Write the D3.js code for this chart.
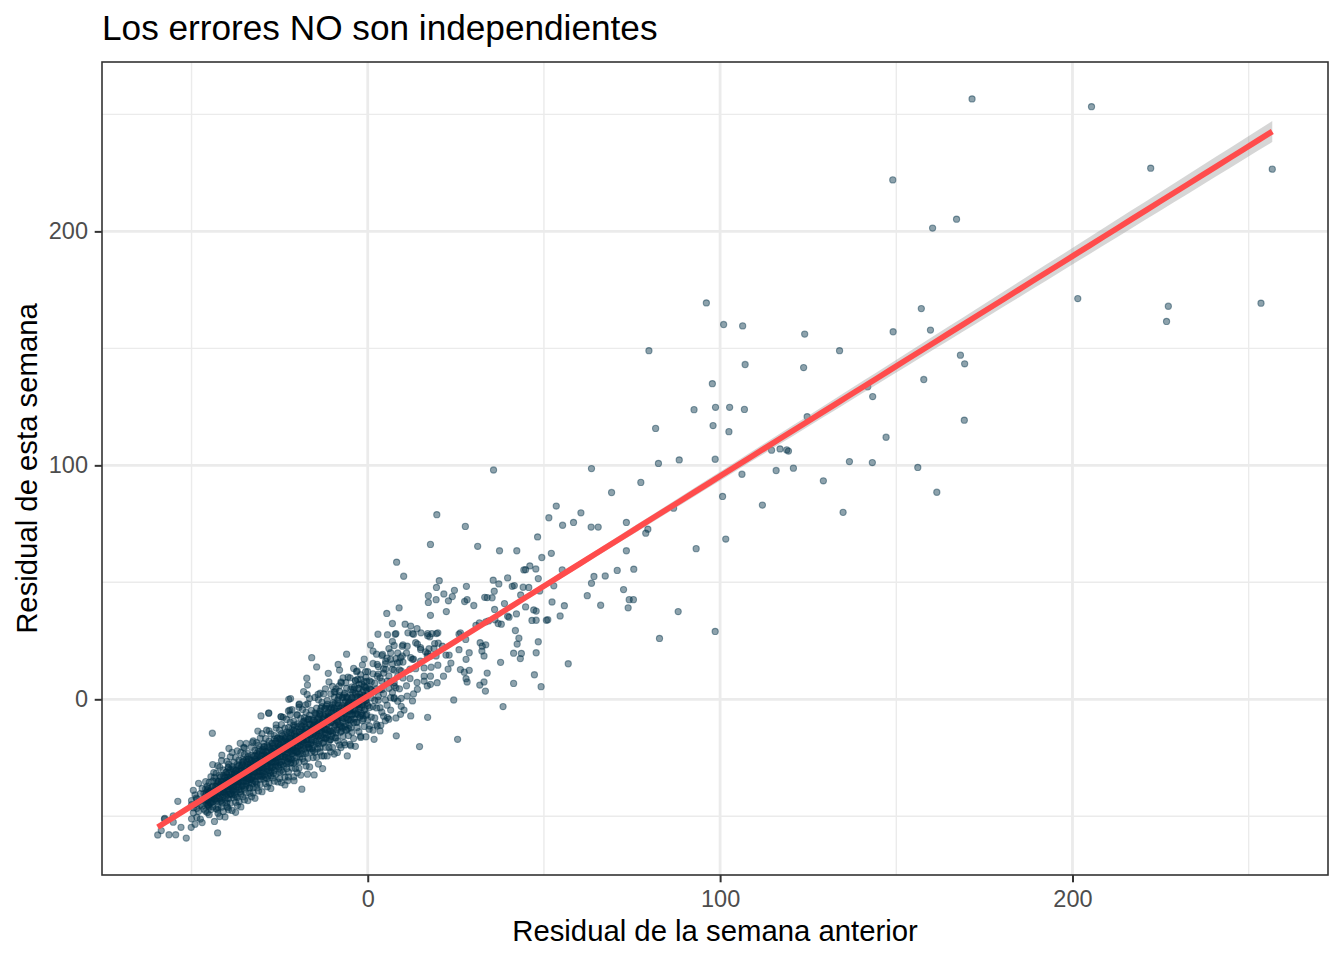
<!DOCTYPE html>
<html lang="es">

<head>
    <meta charset="UTF-8">
    <title>Los errores NO son independientes</title>
    <style>
        body { margin: 0; background: #fff; }
        text { font-family: "Liberation Sans", Arial, Helvetica, sans-serif; }
    </style>
</head>

<body>
    <svg width="1344" height="960"></svg>
    <script src="https://d3js.org/d3.v7.min.js"></script>
    <script>

        // residual of the previous week (x) vs residual of this week (y)
        // sparse points bottom-left
        const lowPts = [
            [-59.6, -58.0], [-57.7, -51.2], [-55.2, -49.8], [-53.9, -43.6], [-56.4, -57.9], [-54.5, -57.9],
            [-53.0, -54.7], [-51.5, -59.3], [-50.1, -54.7], [-42.6, -57.1], [-58.6, -56.1], [-55.2, -52.5],
            [-57.6, -50.9], [-44.1, -14.5], [-42.6, -47.2], [-37.5, -48.3], [-18.7, -38.4], [-39.7, -46.3],
            [-45.2, -45.2], [-48.7, -42.2], [-45.3, -38.1], [-43.7, -31.3], [-42.6, -28.4], [-41.4, -23.9],
            [-39.4, -21.0], [-39.6, -29.1], [-36.2, -18.8], [-35.2, -20.6], [-32.7, -18.5], [-31.2, -13.6],
            [-30.3, -7.1], [-28.1, -6.0], [-28.7, -13.2], [-24.6, -7.4], [-22.5, -5.0], [-20.1, -6.7],
            [-19.4, -2.0], [-17.6, -2.4], [-22.4, 0.0], [-22.7, -34.8], [-20.9, -34.8], [-17.1, -32.0],
            [-15.2, -32.3], [-12.8, -29.6], [-12.4, -24.2], [-8.6, -22.7], [-6.7, -18.5]
        ];

        // dense cloud, read column by column
        const corePts = [
            [-50.0, -45.0], [-50.0, -51.1], [-50.0, -43.3],
            [-49.5, -46.4], [-49.5, -38.9], [-49.5, -48.5],
            [-49.0, -53.4], [-49.0, -40.9], [-49.0, -45.0],
            [-48.5, -46.6], [-48.5, -42.7], [-48.5, -50.5],
            [-48.0, -35.9], [-48.0, -47.9], [-48.0, -43.7],
            [-47.5, -51.2], [-47.5, -40.3], [-47.5, -45.2],
            [-47.0, -38.1], [-47.0, -45.6], [-47.0, -52.7],
            [-46.5, -40.3], [-46.5, -47.0], [-46.5, -43.0],
            [-46.0, -35.2], [-46.0, -47.8], [-46.0, -40.9], [-46.0, -42.8], [-46.0, -38.3],
            [-45.5, -48.4], [-45.5, -38.8], [-45.5, -43.5], [-45.5, -45.1], [-45.5, -37.1],
            [-45.0, -49.3], [-45.0, -40.7], [-45.0, -35.5], [-45.0, -46.0], [-45.0, -39.7],
            [-44.5, -42.0], [-44.5, -33.1], [-44.5, -44.3], [-44.5, -40.8], [-44.5, -47.1],
            [-44.0, -34.9], [-44.0, -43.9], [-44.0, -27.9], [-44.0, -46.0], [-44.0, -37.2],
            [-43.5, -40.7], [-43.5, -52.2], [-43.5, -33.4], [-43.5, -42.7], [-43.5, -39.4],
            [-43.0, -31.6], [-43.0, -46.8], [-43.0, -34.8], [-43.0, -43.2], [-43.0, -37.2],
            [-42.5, -48.7], [-42.5, -37.4], [-42.5, -46.1], [-42.5, -35.1], [-42.5, -40.1],
            [-42.0, -29.0], [-42.0, -42.6], [-42.0, -50.1], [-42.0, -32.4], [-42.0, -38.1],
            [-41.5, -40.6], [-41.5, -35.2], [-41.5, -46.1], [-41.5, -26.2], [-41.5, -43.2],
            [-41.0, -36.8], [-41.0, -48.0], [-41.0, -32.6], [-41.0, -39.6], [-41.0, -30.2],
            [-40.5, -40.3], [-40.5, -50.3], [-40.5, -33.6], [-40.5, -43.0], [-40.5, -37.3],
            [-40.0, -26.5], [-40.0, -44.3], [-40.0, -34.5], [-40.0, -37.3], [-40.0, -31.0], [-40.0, -45.8], [-40.0, -32.2],
            [-39.5, -38.3], [-39.5, -40.7], [-39.5, -29.3], [-39.5, -47.2], [-39.5, -35.1], [-39.5, -27.7], [-39.5, -42.6],
            [-39.0, -33.3], [-39.0, -37.2], [-39.0, -24.6], [-39.0, -40.5], [-39.0, -35.6], [-39.0, -44.4], [-39.0, -30.2],
            [-38.5, -38.7], [-38.5, -22.7], [-38.5, -40.8], [-38.5, -32.0], [-38.5, -36.0], [-38.5, -47.5], [-38.5, -28.7],
            [-38.0, -37.5], [-38.0, -34.2], [-38.0, -26.9], [-38.0, -42.1], [-38.0, -30.1], [-38.0, -38.5], [-38.0, -32.5],
            [-37.5, -44.0], [-37.5, -32.7], [-37.5, -41.4], [-37.5, -30.4], [-37.5, -35.4], [-37.5, -24.8], [-37.5, -38.4],
            [-37.0, -45.4], [-37.0, -27.7], [-37.0, -33.4], [-37.0, -36.4], [-37.0, -31.0], [-37.0, -41.9], [-37.0, -22.0],
            [-36.5, -38.5], [-36.5, -32.5], [-36.5, -43.7], [-36.5, -28.3], [-36.5, -35.3], [-36.5, -25.9], [-36.5, -36.5],
            [-36.0, -46.0], [-36.0, -29.3], [-36.0, -38.7], [-36.0, -33.0], [-36.0, -22.7], [-36.0, -40.5], [-36.0, -30.7],
            [-35.5, -33.1], [-35.5, -26.8], [-35.5, -41.6], [-35.5, -28.0], [-35.5, -34.6], [-35.5, -37.0], [-35.5, -25.6],
            [-35.0, -43.0], [-35.0, -30.9], [-35.0, -23.5], [-35.0, -38.4], [-35.0, -29.5], [-35.0, -33.4], [-35.0, -20.8],
            [-34.5, -36.2], [-34.5, -31.3], [-34.5, -40.1], [-34.5, -25.9], [-34.5, -34.9], [-34.5, -18.9], [-34.5, -37.0],
            [-34.0, -27.8], [-34.0, -31.8], [-34.0, -43.3], [-34.0, -24.5], [-34.0, -33.8], [-34.0, -30.5], [-34.0, -23.2],
            [-33.5, -37.9], [-33.5, -25.9], [-33.5, -34.3], [-33.5, -28.3], [-33.5, -40.2], [-33.5, -28.9], [-33.5, -37.6],
            [-33.0, -26.1], [-33.0, -31.1], [-33.0, -20.5], [-33.0, -34.1], [-33.0, -41.6], [-33.0, -23.9], [-33.0, -29.6],
            [-32.5, -32.2], [-32.5, -26.8], [-32.5, -37.7], [-32.5, -17.8], [-32.5, -34.8], [-32.5, -28.8], [-32.5, -40.0],
            [-32.0, -24.1], [-32.0, -31.1], [-32.0, -21.7], [-32.0, -32.3], [-32.0, -42.3], [-32.0, -25.6], [-32.0, -35.0],
            [-31.5, -28.8], [-31.5, -18.5], [-31.5, -36.3], [-31.5, -26.5], [-31.5, -29.3], [-31.5, -23.0], [-31.5, -37.8],
            [-31.0, -23.7], [-31.0, -30.3], [-31.0, -32.7], [-31.0, -21.3], [-31.0, -39.2], [-31.0, -27.1], [-31.0, -19.7],
            [-30.5, -34.2], [-30.5, -25.3], [-30.5, -29.2], [-30.5, -16.6], [-30.5, -32.5], [-30.5, -27.6], [-30.5, -36.4],
            [-30.0, -21.7], [-30.0, -30.7], [-30.0, -14.7], [-30.0, -32.8], [-30.0, -24.0], [-30.0, -28.0], [-30.0, -39.5],
            [-29.5, -20.2], [-29.5, -29.5], [-29.5, -26.2], [-29.5, -18.9], [-29.5, -34.1], [-29.5, -22.1], [-29.5, -30.5],
            [-29.0, -24.1], [-29.0, -36.0], [-29.0, -24.7], [-29.0, -33.4], [-29.0, -22.4], [-29.0, -27.4], [-29.0, -16.8],
            [-28.5, -29.9], [-28.5, -37.4], [-28.5, -19.7], [-28.5, -25.4], [-28.5, -28.4], [-28.5, -23.0], [-28.5, -33.9],
            [-28.0, -13.5], [-28.0, -30.5], [-28.0, -24.5], [-28.0, -35.7], [-28.0, -20.3], [-28.0, -27.3], [-28.0, -17.9],
            [-27.5, -28.1], [-27.5, -38.1], [-27.5, -21.4], [-27.5, -30.8], [-27.5, -25.1], [-27.5, -14.8], [-27.5, -32.6],
            [-27.0, -22.3], [-27.0, -25.1], [-27.0, -18.8], [-27.0, -33.6], [-27.0, -20.0], [-27.0, -26.6], [-27.0, -29.0],
            [-26.5, -17.1], [-26.5, -35.0], [-26.5, -22.9], [-26.5, -15.5], [-26.5, -30.4], [-26.5, -21.5], [-26.5, -25.4],
            [-26.0, -12.3], [-26.0, -28.2], [-26.0, -23.3], [-26.0, -32.1], [-26.0, -17.9], [-26.0, -26.9], [-26.0, -10.9],
            [-25.5, -28.6], [-25.5, -19.8], [-25.5, -23.8], [-25.5, -35.3], [-25.5, -16.5], [-25.5, -25.8], [-25.5, -22.5],
            [-25.0, -13.2], [-25.0, -31.1], [-25.0, -17.0], [-25.0, -26.9], [-25.0, -19.9], [-25.0, -33.8], [-25.0, -20.6],
            [-24.5, -30.3], [-24.5, -17.3], [-24.5, -23.2], [-24.5, -10.8], [-24.5, -26.8], [-24.5, -35.6], [-24.5, -14.7],
            [-24.0, -21.1], [-24.0, -24.6], [-24.0, -18.2], [-24.0, -31.1], [-24.0, -7.7], [-24.0, -27.7], [-24.0, -20.6],
            [-23.5, -33.3], [-23.5, -15.1], [-23.5, -23.4], [-23.5, -12.3], [-23.5, -24.8], [-23.5, -36.6], [-23.5, -16.9],
            [-23.0, -27.5], [-23.0, -20.8], [-23.0, -8.6], [-23.0, -29.6], [-23.0, -18.1], [-23.0, -21.3], [-23.0, -13.9],
            [-22.5, -31.0], [-22.5, -15.0], [-22.5, -22.7], [-22.5, -25.5], [-22.5, -12.1], [-22.5, -33.2], [-22.5, -18.9],
            [-22.0, -9.8], [-22.0, -27.3], [-22.0, -16.8], [-22.0, -21.4], [-22.0, -6.6], [-22.0, -25.3], [-22.0, -19.5],
            [-21.5, -29.4], [-21.5, -12.7], [-21.5, -23.3], [-21.5, -4.4], [-21.5, -25.7], [-21.5, -15.4], [-21.5, -20.1],
            [-21.0, -33.1], [-21.0, -11.0], [-21.0, -21.9], [-21.0, -18.0], [-21.0, -9.4], [-21.0, -27.3], [-21.0, -13.2],
            [-20.5, -22.7], [-20.5, -15.7], [-20.5, -29.6], [-20.5, -16.4], [-20.5, -26.6], [-20.5, -13.6], [-20.5, -19.5],
            [-20.0, -6.6], [-20.0, -22.6], [-20.0, -31.4], [-20.0, -10.5], [-20.0, -17.3], [-20.0, -20.8],
            [-19.5, -13.9], [-19.5, -26.8], [-19.5, -3.4], [-19.5, -23.4], [-19.5, -16.3], [-19.5, -29.5],
            [-19.0, -10.9], [-19.0, -19.2], [-19.0, -8.1], [-19.0, -20.6], [-19.0, -32.4], [-19.0, -12.7],
            [-18.5, -23.3], [-18.5, -16.6], [-18.5, -4.4], [-18.5, -25.4], [-18.5, -13.9], [-18.5, -17.1],
            [-18.0, -9.2], [-18.0, -26.7], [-18.0, -10.7], [-18.0, -18.4], [-18.0, -21.2], [-18.0, -7.8],
            [-17.5, -28.5], [-17.5, -14.2], [-17.5, -5.6], [-17.5, -23.1], [-17.5, -12.6], [-17.5, -17.2],
            [-17.0, -1.9], [-17.0, -20.6], [-17.0, -14.8], [-17.0, -25.2], [-17.0, -8.5], [-17.0, -19.1],
            [-16.5, 0.3], [-16.5, -21.0], [-16.5, -10.7], [-16.5, -15.4], [-16.5, -28.9], [-16.5, -6.8],
            [-16.0, -17.2], [-16.0, -13.3], [-16.0, -4.7], [-16.0, -22.6], [-16.0, -8.5], [-16.0, -18.4],
            [-15.5, -11.0], [-15.5, -24.9], [-15.5, -11.7], [-15.5, -21.9], [-15.5, -8.9], [-15.5, -14.8],
            [-15.0, -5.8], [-15.0, -12.6], [-15.0, -16.1], [-15.0, -9.7], [-15.0, -22.6], [-15.0, 0.8],
            [-14.5, -18.7], [-14.5, -11.6], [-14.5, -24.8], [-14.5, -6.6], [-14.5, -14.9], [-14.5, -3.8],
            [-14.0, -15.9], [-14.0, -27.7], [-14.0, -8.0], [-14.0, -19.1], [-14.0, -12.4], [-14.0, -0.2],
            [-13.5, -20.7], [-13.5, -9.2], [-13.5, -12.4], [-13.5, -5.0], [-13.5, -22.5], [-13.5, -6.5],
            [-13.0, -13.7], [-13.0, -16.5], [-13.0, -3.1], [-13.0, -24.2], [-13.0, -9.9], [-13.0, -1.3],
            [-12.5, -18.4], [-12.5, -7.9], [-12.5, -12.5], [-12.5, 2.3], [-12.5, -16.4], [-12.5, -10.6],
            [-12.0, -20.5], [-12.0, -3.8], [-12.0, -14.4], [-12.0, 4.5], [-12.0, -16.8], [-12.0, -6.5],
            [-11.5, -10.7], [-11.5, -24.2], [-11.5, -2.1], [-11.5, -13.0], [-11.5, -9.1], [-11.5, -0.5],
            [-11.0, -17.9], [-11.0, -3.8], [-11.0, -13.7], [-11.0, -6.7], [-11.0, -20.6], [-11.0, -7.4],
            [-10.5, -17.2], [-10.5, -4.2], [-10.5, -10.1], [-10.5, 2.3], [-10.5, -13.7], [-10.5, -22.5],
            [-10.0, 5.5], [-10.0, -14.5], [-10.0, -7.4], [-10.0, -20.6], [-10.0, -2.4],
            [-9.5, -10.2], [-9.5, 0.9], [-9.5, -11.6], [-9.5, -23.4], [-9.5, -3.7],
            [-9.0, -14.4], [-9.0, -7.7], [-9.0, 4.5], [-9.0, -16.5], [-9.0, -5.0],
            [-8.5, -7.7], [-8.5, -0.3], [-8.5, -17.8], [-8.5, -1.8], [-8.5, -9.5],
            [-8.0, -11.8], [-8.0, 1.6], [-8.0, -19.5], [-8.0, -5.2], [-8.0, 3.4],
            [-7.5, -13.7], [-7.5, -3.2], [-7.5, -7.8], [-7.5, 7.0], [-7.5, -11.7],
            [-7.0, -5.4], [-7.0, -15.8], [-7.0, 0.9], [-7.0, -9.7], [-7.0, 9.2],
            [-6.5, -11.6], [-6.5, -1.3], [-6.5, -6.0], [-6.5, -19.5], [-6.5, 2.6],
            [-6.0, -7.8], [-6.0, -3.9], [-6.0, 4.7], [-6.0, -13.2], [-6.0, 0.9],
            [-5.5, -8.6], [-5.5, -1.6], [-5.5, -15.5], [-5.5, -2.3], [-5.5, -12.5],
            [-5.0, 1.8], [-5.0, -5.0], [-5.0, 9.2], [-5.0, -9.2], [-5.0, -19.3],
            [-4.5, 5.3], [-4.5, -2.6], [-4.5, -6.6], [-4.5, 0.8], [-4.5, -14.1],
            [-4.0, 13.2], [-4.0, -9.8], [-4.0, -1.6], [-4.0, -16.8], [-4.0, 4.2],
            [-3.5, -4.9], [-3.5, 7.9], [-3.5, -6.5], [-3.5, -20.1], [-3.5, 2.6],
            [-3.0, -9.7], [-3.0, -2.0], [-3.0, 12.1], [-3.0, -12.1], [-3.0, 1.1],
            [-2.5, -2.1], [-2.5, 6.4], [-2.5, -13.8], [-2.5, 4.6], [-2.5, -4.2],
            [-2.0, -6.9], [-2.0, 8.5], [-2.0, -15.8], [-2.0, 0.7], [-2.0, 10.5],
            [-1.5, -9.1], [-1.5, 3.0], [-1.5, -2.3], [-1.5, 14.7], [-1.5, -6.8],
            [-1.0, 0.4], [-1.0, -11.6], [-1.0, 7.6], [-1.0, -4.6], [-1.0, 17.2],
            [-0.5, -6.9], [-0.5, 4.9], [-0.5, -0.5], [-0.5, -16.0], [-0.5, 9.4],
            [0.0, -2.6], [0.0, 1.9], [0.0, 11.8], [0.0, -8.8],
            [0.5, 7.9], [0.5, -3.5], [0.5, 4.6], [0.5, -11.4],
            [1.0, 4.1], [1.0, -7.6], [1.0, 7.4], [1.0, 0.6],
            [1.5, 15.3], [1.5, -3.1], [1.5, -13.2], [1.5, 10.9],
            [2.0, 3.5], [2.0, -0.5], [2.0, 6.9], [2.0, -8.0],
            [2.5, 19.3], [2.5, -3.7], [2.5, 4.5], [2.5, -10.7],
            [3.0, 10.8], [3.0, 1.2], [3.0, 14.0], [3.0, -0.4],
            [3.5, -13.5], [3.5, 9.2], [3.5, -3.6], [3.5, 4.1],
            [4.0, 18.7], [4.0, -5.5], [4.0, 7.7], [4.0, 4.1],
            [4.5, 13.0], [4.5, -7.2], [4.5, 11.2], [4.5, 2.4],
            [5.0, -0.3], [5.0, 15.1], [5.0, -9.2],
            [5.5, 7.8], [5.5, 17.6], [5.5, -2.5],
            [6.0, 10.0], [6.0, 4.7], [6.0, 21.7],
            [6.5, 0.7], [6.5, 7.4], [6.5, -4.6],
            [7.0, 15.1], [7.0, 2.9], [7.0, 24.7],
            [7.5, 0.7], [7.5, 12.5], [7.5, 7.1],
            [8.0, -8.0], [8.0, 17.4], [8.0, 4.9],
            [8.5, 9.9], [8.5, 19.8], [8.5, -0.8],
            [9.0, 15.9], [9.0, 4.5], [9.0, 12.6],
            [9.5, -3.0], [9.5, 12.1], [9.5, 0.4],
            [10.0, 15.9], [10.0, 9.1], [10.0, 23.3],
            [11.0, 5.8], [11.0, 19.8], [12.0, 12.9], [12.0, 8.9],
            [13.0, 17.2], [13.0, 2.3], [14.0, 30.2], [14.0, 7.2],
            [15.0, 16.3], [15.0, 22.1], [16.0, 13.4], [17.0, 27.2],
            [18.0, 13.7], [19.0, 23.8]
        ];

        // the darkest middle of the cloud, between the columns above
        const coreFillPts = [
            [-45.75, -41.6], [-45.75, -44.4], [-45.75, -39.8],
            [-45.25, -43.1], [-45.25, -40.0], [-45.25, -45.4],
            [-44.75, -39.3], [-44.75, -41.9], [-44.75, -44.3],
            [-44.25, -42.7], [-44.25, -37.6], [-44.25, -40.4],
            [-43.75, -39.0], [-43.75, -43.6], [-43.75, -41.4],
            [-43.25, -42.5], [-43.25, -37.2], [-43.25, -39.9],
            [-42.75, -36.0], [-42.75, -41.0], [-42.75, -43.6],
            [-42.25, -38.1], [-42.25, -42.0], [-42.25, -35.1], [-42.25, -39.6],
            [-41.75, -43.6], [-41.75, -36.2], [-41.75, -40.1], [-41.75, -33.2],
            [-41.25, -41.7], [-41.25, -37.9], [-41.25, -35.1], [-41.25, -44.3],
            [-40.75, -36.1], [-40.75, -39.8], [-40.75, -33.1], [-40.75, -38.5],
            [-40.25, -41.3], [-40.25, -35.3], [-40.25, -38.3], [-40.25, -31.2],
            [-39.75, -39.4], [-39.75, -36.1], [-39.75, -33.3], [-39.75, -42.2],
            [-39.25, -34.2], [-39.25, -36.5], [-39.25, -39.5], [-39.25, -31.3],
            [-38.75, -37.2], [-38.75, -33.2], [-38.75, -40.3], [-38.75, -35.4],
            [-38.25, -29.8], [-38.25, -37.3], [-38.25, -34.0], [-38.25, -39.1],
            [-37.75, -31.6], [-37.75, -35.2], [-37.75, -40.7], [-37.75, -33.2],
            [-37.25, -30.4], [-37.25, -34.9], [-37.25, -39.4], [-37.25, -32.0],
            [-36.75, -35.4], [-36.75, -28.5], [-36.75, -37.4], [-36.75, -33.6],
            [-36.25, -30.4], [-36.25, -39.6], [-36.25, -31.9], [-36.25, -35.6],
            [-35.75, -28.4], [-35.75, -33.8], [-35.75, -37.1], [-35.75, -31.1],
            [-35.25, -33.6], [-35.25, -26.5], [-35.25, -35.1], [-35.25, -31.8],
            [-34.75, -28.6], [-34.75, -37.5], [-34.75, -30.0], [-34.75, -32.3],
            [-34.25, -34.8], [-34.25, -26.6], [-34.25, -33.0], [-34.25, -29.0],
            [-33.75, -35.6], [-33.75, -30.7], [-33.75, -25.5], [-33.75, -33.0],
            [-33.25, -29.3], [-33.25, -34.4], [-33.25, -27.4], [-33.25, -31.0],
            [-32.75, -36.0], [-32.75, -28.5], [-32.75, -29.2], [-32.75, -33.1],
            [-32.25, -27.3], [-32.25, -31.2], [-32.25, -24.3], [-32.25, -33.2],
            [-31.75, -28.9], [-31.75, -26.1], [-31.75, -35.3], [-31.75, -27.6],
            [-31.25, -30.9], [-31.25, -24.2], [-31.25, -29.6], [-31.25, -32.9],
            [-30.75, -26.4], [-30.75, -29.4], [-30.75, -22.3], [-30.75, -30.9],
            [-30.25, -27.1], [-30.25, -24.3], [-30.25, -33.2], [-30.25, -25.7],
            [-29.75, -27.6], [-29.75, -31.2], [-29.75, -21.5], [-29.75, -29.0],
            [-29.25, -23.8], [-29.25, -32.2], [-29.25, -26.4], [-29.25, -20.3],
            [-28.75, -28.6], [-28.75, -24.8], [-28.75, -30.8], [-28.75, -22.5],
            [-28.25, -26.4], [-28.25, -32.8], [-28.25, -24.0], [-28.25, -24.8],
            [-27.75, -28.9], [-27.75, -20.8], [-27.75, -26.1], [-27.75, -31.4],
            [-27.25, -22.2], [-27.25, -26.8], [-27.25, -18.7], [-27.25, -29.1],
            [-26.75, -24.2], [-26.75, -20.9], [-26.75, -31.7], [-26.75, -22.6],
            [-26.25, -26.6], [-26.25, -18.7], [-26.25, -25.0], [-26.25, -28.9],
            [-25.75, -21.4], [-25.75, -24.9], [-25.75, -16.6], [-25.75, -26.6],
            [-25.25, -22.3], [-25.25, -19.0], [-25.25, -29.5], [-25.25, -20.6],
            [-24.75, -16.8], [-24.75, -24.3], [-24.75, -19.6], [-24.75, -28.0],
            [-24.25, -21.7], [-24.25, -15.6], [-24.25, -24.4], [-24.25, -20.6],
            [-23.75, -26.1], [-23.75, -17.8], [-23.75, -22.1], [-23.75, -28.5],
            [-23.25, -19.3], [-23.25, -20.1], [-23.25, -24.7], [-23.25, -16.6],
            [-22.75, -21.4], [-22.75, -26.7], [-22.75, -18.0], [-22.75, -22.6],
            [-22.25, -14.0], [-22.25, -24.4], [-22.25, -20.0], [-22.25, -16.7],
            [-21.75, -27.0], [-21.75, -17.9], [-21.75, -22.3], [-21.75, -14.4],
            [-21.25, -20.3], [-21.25, -24.2], [-21.25, -17.2], [-21.25, -20.7],
            [-20.75, -11.9], [-20.75, -21.9], [-20.75, -18.1], [-20.75, -14.8],
            [-20.25, -24.8], [-20.25, -15.9], [-20.25, -18.6], [-20.25, -22.2],
            [-19.75, -19.8], [-19.75, -11.7], [-19.75, -22.1], [-19.75, -17.7],
            [-19.25, -13.9], [-19.25, -24.7], [-19.25, -15.6], [-19.25, -20.0],
            [-18.75, -11.6], [-18.75, -17.9], [-18.75, -21.8], [-18.75, -14.8],
            [-18.25, -17.9], [-18.25, -9.6], [-18.25, -19.6], [-18.25, -15.8],
            [-17.75, -12.0], [-17.75, -22.5], [-17.75, -13.6], [-17.75, -16.3],
            [-17.25, -19.4], [-17.25, -9.7], [-17.25, -17.2], [-17.25, -12.5],
            [-16.75, -20.4], [-16.75, -14.6], [-16.75, -8.5], [-16.75, -17.3],
            [-16.25, -13.1], [-16.25, -19.1], [-16.25, -10.8], [-16.25, -15.1],
            [-15.75, -21.0], [-15.75, -12.2], [-15.75, -13.0], [-15.75, -17.6],
            [-15.25, -9.0], [-15.25, -14.3], [-15.25, -19.6], [-15.25, -10.9],
            [-14.75, -15.4], [-14.75, -6.1], [-14.75, -18.0], [-14.75, -13.0],
            [-14.25, -8.7], [-14.25, -21.1], [-14.25, -10.6], [-14.25, -15.7],
            [-13.75, -6.1], [-13.75, -13.3], [-13.75, -17.8], [-13.75, -9.8],
            [-13.25, -13.4], [-13.25, -3.8], [-13.25, -15.4], [-13.25, -11.0],
            [-12.75, -6.7], [-12.75, -18.8], [-12.75, -8.5], [-12.75, -11.6],
            [-12.25, -15.3], [-12.25, -4.1], [-12.25, -12.7], [-12.25, -7.3],
            [-11.75, -16.5], [-11.75, -9.8], [-11.75, -2.8], [-11.75, -12.9],
            [-11.25, -8.2], [-11.25, -15.1], [-11.25, -5.5], [-11.25, -10.5],
            [-10.75, -17.3], [-10.75, -7.2], [-10.75, -8.1], [-10.75, -13.4],
            [-10.25, -3.6], [-10.25, -9.7], [-10.25, -15.8], [-10.25, -5.8],
            [-9.75, -1.4], [-9.75, -13.3], [-9.75, -8.3], [-9.75, -4.5],
            [-9.25, -16.4], [-9.25, -5.9], [-9.25, -11.0], [-9.25, -1.9],
            [-8.75, -8.6], [-8.75, -13.1], [-8.75, -5.1], [-8.75, -9.1],
            [-8.25, 0.9], [-8.25, -10.7], [-8.25, -6.3], [-8.25, -2.5],
            [-7.75, -14.1], [-7.75, -3.8], [-7.75, -6.9], [-7.75, -11.1],
            [-7.25, 0.6], [-7.25, -8.0], [-7.25, -2.6], [-7.25, -12.3],
            [-6.75, -5.1], [-6.75, 1.9], [-6.75, -8.2], [-6.75, -3.9],
            [-6.25, -10.4], [-6.25, -0.8], [-6.25, -5.8], [-6.25, -13.1],
            [-5.75, -2.5], [-5.75, -3.4], [-5.75, -8.7], [-5.75, 0.6],
            [-5.25, -5.0], [-5.25, -11.1], [-5.25, -1.1], [-5.25, -6.4],
            [-4.75, -8.6], [-4.75, -3.6], [-4.75, 0.2], [-4.75, -12.2],
            [-4.25, -1.2], [-4.25, -6.3], [-4.25, 2.8], [-4.25, -4.4],
            [-3.75, -8.4], [-3.75, -0.4], [-3.75, -4.4], [-3.75, 5.2],
            [-3.25, -6.0], [-3.25, -1.6], [-3.25, 2.2], [-3.25, -9.9],
            [-2.75, 0.9], [-2.75, -2.2], [-2.75, -6.4], [-2.75, 4.8],
            [-2.25, -3.3], [-2.25, 2.1], [-2.25, -7.6], [-2.25, -0.9],
            [-1.75, 6.6], [-1.75, -3.5], [-1.75, 0.8], [-1.75, -6.1],
            [-1.25, 3.9], [-1.25, -1.1], [-1.25, -8.4], [-1.25, 1.7],
            [-0.75, 1.3], [-0.75, -4.0], [-0.75, 5.3], [-0.75, -0.8],
            [-0.25, -6.4], [-0.25, 3.6], [-0.25, -1.7], [-0.25, 7.6]
        ];

        // points on the edges of the cloud, around x = 0
        const edgePts = [
            [-15.9, 17.8], [-14.5, 13.8], [-11.2, 11.1], [-11.0, 7.4], [-8.4, 14.9], [-8.0, 12.5], [-6.0, 19.3],
            [-17.3, 9.0], [-17.1, 6.1], [-18.2, 3.3], [-17.2, 2.1], [-14.1, 2.1], [-13.5, 2.6], [-9.3, 3.3],
            [-21.9, 0.3], [-28.1, -5.8], [-24.6, -7.5], [-22.1, -4.6], [-19.5, -2.3], [-7.6, 7.4], [-5.6, 9.5],
            [-3.2, 11.8], [-3.5, 8.1], [-0.6, 11.8], [0.8, 23.2], [1.5, 20.6], [2.9, 27.8], [5.6, 27.6],
            [7.0, 32.4], [7.8, 27.8], [10.6, 32.1], [12.2, 31.3], [13.0, 27.8], [14.1, 23.6], [15.1, 28.4],
            [17.0, 28.1], [16.4, 20.3], [9.8, 22.7], [6.5, 19.9], [4.2, 19.2], [7.5, 23.0], [2.7, 14.9],
            [5.1, 16.3], [7.0, 12.8], [9.3, 17.8], [12.7, 17.1], [13.6, 13.1], [16.0, 9.9], [16.0, 7.8],
            [17.8, 6.4], [8.1, -15.6], [14.7, -20.2], [12.2, -7.1], [10.3, -4.6], [12.7, -0.7], [7.5, 0.3],
            [5.6, -7.8], [3.7, -11.1], [6.0, -8.5], [9.3, -6.4], [1.8, -17.1], [-2.0, -16.3], [0.4, -12.8],
            [2.7, -11.4], [-4.8, -19.9], [-7.6, -20.6], [-5.8, -24.2], [-9.5, 3.1], [-8.1, 5.7], [-6.2, 7.1],
            [-4.8, 4.3], [-2.9, 8.5], [-1.0, 5.7], [0.8, 4.3], [2.7, 9.9], [5.1, 12.8], [6.5, 17.1],
            [8.4, 15.6], [9.8, 18.5], [12.2, 17.8], [13.6, 24.2], [11.2, 22.7], [15.0, 21.3], [16.9, 18.5],
            [17.8, 9.9], [16.9, 5.7], [19.7, 7.1], [14.1, 4.3], [11.2, 1.4], [7.5, 5.7], [25.5, -17.1], [17.0, -7.7]
        ];

        // middle of the plot, 15 < x < 95
        const midPts = [
            [19.6, 78.9], [27.7, 73.9], [17.8, 66.2], [8.2, 58.6], [10.2, 52.6], [31.2, 65.4], [37.4, 63.5],
            [42.3, 63.5], [48.2, 69.4], [49.4, 60.6], [52.1, 62.4], [44.3, 55.3], [44.8, 55.4], [46.0, 57.0],
            [47.7, 55.7], [55.2, 55.3], [48.4, 51.6], [39.7, 51.9], [35.6, 50.9], [37.2, 49.3], [35.9, 46.2],
            [41.0, 48.3], [41.6, 48.6], [44.1, 47.9], [45.7, 47.8], [43.4, 44.6], [48.8, 46.3], [52.8, 48.5],
            [20.3, 50.7], [19.5, 47.8], [21.6, 45.0], [24.0, 43.9], [24.6, 46.6], [22.9, 42.1], [28.0, 48.3],
            [17.2, 44.3], [19.4, 42.6], [17.2, 41.4], [27.5, 41.8], [28.2, 42.6], [30.1, 40.1], [33.2, 43.6],
            [33.9, 43.5], [35.3, 43.4], [38.8, 40.9], [36.0, 38.4], [40.1, 35.1], [39.7, 35.5], [42.2, 36.5],
            [44.8, 39.5], [47.1, 38.2], [47.8, 37.7], [46.6, 33.7], [47.8, 33.8], [50.7, 33.8], [51.1, 34.0],
            [52.3, 41.6], [54.6, 35.6], [55.8, 40.0], [62.3, 44.3], [66.1, 40.2], [63.5, 49.6], [64.2, 52.5],
            [67.4, 52.7], [70.8, 55.1], [72.6, 46.9], [73.4, 63.5], [75.5, 55.6], [74.2, 42.6], [75.4, 42.6],
            [73.9, 39.1], [82.8, 26.0], [56.9, 15.2], [48.4, 24.6], [47.8, 19.9], [43.3, 17.4], [43.6, 19.6],
            [41.4, 19.7], [47.3, 10.5], [49.2, 5.4], [41.4, 6.8], [37.7, 15.8], [33.9, 11.2], [31.8, 6.1],
            [33.4, 3.5], [38.4, -3.1], [24.4, -0.3], [31.9, 24.2], [33.5, 23.3], [33.0, 18.5], [32.4, 20.6],
            [32.5, 22.7], [30.7, 31.6], [31.7, 32.7], [33.5, 33.1], [34.3, 33.5], [37.0, 32.4], [37.9, 32.1],
            [36.1, 34.0], [42.9, 26.1], [42.4, 23.6], [41.9, 29.4], [27.8, 25.6], [28.8, 19.9], [27.9, 17.1],
            [25.9, 21.2], [25.9, 27.8], [26.3, 28.4], [26.3, 12.7], [27.4, 11.6], [27.9, 8.8], [28.8, 12.4],
            [28.2, 7.4], [33.0, 7.4], [21.5, 9.9], [22.8, 12.9], [23.6, 15.5], [23.1, 18.9], [22.2, 18.9],
            [19.9, 14.6], [21.2, 22.7], [20.0, 24.0], [18.8, 21.7], [17.4, 21.6], [17.0, 19.6], [17.8, 18.5],
            [19.4, 18.5], [17.6, 26.7], [19.9, 28.4], [19.5, 28.1], [18.2, 28.1], [12.7, 28.1], [11.4, 28.4],
            [8.0, 28.1], [8.9, 39.1], [5.4, 36.7], [17.8, 35.9], [22.3, 37.5], [53.5, 82.6], [51.4, 77.6],
            [35.7, 98.0], [60.5, 79.7], [55.3, 74.4], [58.4, 75.6], [63.4, 73.6], [65.4, 73.6], [73.4, 75.6],
            [79.5, 72.7], [78.9, 71.0], [69.2, 88.4], [77.5, 92.7], [63.5, 98.6], [81.7, 115.8], [79.8, 149.0],
            [82.5, 100.8], [88.4, 102.3], [86.8, 81.7], [88.1, 37.5], [93.2, 64.4]
        ];

        // the long right tail
        const highPts = [
            [96.1, 169.4], [101.0, 160.2], [106.4, 159.6], [124.0, 156.1], [149.1, 157.1], [133.9, 149.0],
            [107.1, 143.1], [123.7, 141.8], [168.2, 147.1], [169.4, 143.4], [157.8, 136.7], [97.8, 134.9],
            [92.6, 123.8], [98.7, 124.8], [102.7, 124.8], [106.9, 123.9], [141.9, 133.6], [143.3, 129.4],
            [124.7, 120.8], [169.3, 119.3], [98.0, 117.0], [102.5, 114.4], [147.1, 112.0], [114.6, 106.5],
            [117.0, 107.0], [118.9, 106.6], [119.4, 106.1], [98.6, 102.6], [106.2, 96.2], [115.9, 97.8],
            [120.8, 98.8], [136.7, 101.6], [143.2, 101.2], [156.1, 99.1], [129.3, 93.4], [161.5, 88.5],
            [100.7, 86.7], [112.0, 83.0], [134.9, 79.9], [101.6, 68.5], [98.6, 29.0],
            [171.5, 256.6], [205.4, 253.3], [149.0, 222.0], [160.3, 201.4], [167.1, 205.2], [222.2, 227.0],
            [256.7, 226.6], [201.5, 171.3], [227.2, 168.0], [226.7, 161.5], [253.5, 169.3], [157.1, 167.0],
            [159.7, 157.8]
        ];

        const xBreaks = [0, 100, 200];
        const yBreaks = [0, 100, 200];
        const xMinor = [-50, 50, 150, 250];
        const yMinor = [-50, 50, 150, 250];

        const titleText = "Los errores NO son independientes";
        const xTitle = "Residual de la semana anterior";
        const yTitle = "Residual de esta semana";

        const data = lowPts.concat(corePts, coreFillPts, edgePts, midPts, highPts);

        let svg = d3.select("svg"),
            panel = { left: 102, top: 62, right: 1328, bottom: 875 };

        svg.append("rect").attr("width", 1344).attr("height", 960).attr("fill", "#fff");

        // ggplot style 5% expansion
        function expand(ext) {
            let pad = (ext[1] - ext[0]) * 0.05;
            return [ext[0] - pad, ext[1] + pad];
        }
        let xExt = d3.extent(data, d => d[0]),
            yExt = d3.extent(data, d => d[1]);

        let x = d3.scaleLinear().domain(expand(xExt)).range([panel.left, panel.right]);
        let y = d3.scaleLinear().domain(expand(yExt)).range([panel.bottom, panel.top]);

        // grid
        let grid = svg.append("g");
        grid.selectAll(".xminor").data(xMinor).enter().append("line")
            .attr("x1", d => x(d)).attr("x2", d => x(d))
            .attr("y1", panel.top).attr("y2", panel.bottom)
            .attr("stroke", "#ebebeb").attr("stroke-width", 1.4);
        grid.selectAll(".yminor").data(yMinor).enter().append("line")
            .attr("y1", d => y(d)).attr("y2", d => y(d))
            .attr("x1", panel.left).attr("x2", panel.right)
            .attr("stroke", "#ebebeb").attr("stroke-width", 1.4);
        grid.selectAll(".xmajor").data(xBreaks).enter().append("line")
            .attr("x1", d => x(d)).attr("x2", d => x(d))
            .attr("y1", panel.top).attr("y2", panel.bottom)
            .attr("stroke", "#ebebeb").attr("stroke-width", 2.8);
        grid.selectAll(".ymajor").data(yBreaks).enter().append("line")
            .attr("y1", d => y(d)).attr("y2", d => y(d))
            .attr("x1", panel.left).attr("x2", panel.right)
            .attr("stroke", "#ebebeb").attr("stroke-width", 2.8);

        // points
        svg.append("g").selectAll("circle").data(data).enter().append("circle")
            .attr("cx", d => x(d[0]))
            .attr("cy", d => y(d[1]))
            .attr("r", 3.1)
            .attr("fill", "#023047").attr("fill-opacity", 0.45)
            .attr("stroke", "#023047").attr("stroke-opacity", 0.45)
            .attr("stroke-width", 1.1);

        // linear fit with 95% band (lm)
        let n = data.length,
            mx = d3.mean(data, d => d[0]),
            my = d3.mean(data, d => d[1]),
            sxx = d3.sum(data, d => (d[0] - mx) * (d[0] - mx)),
            sxy = d3.sum(data, d => (d[0] - mx) * (d[1] - my)),
            slope = sxy / sxx,
            icpt = my - slope * mx,
            sse = d3.sum(data, d => Math.pow(d[1] - icpt - slope * d[0], 2)),
            s = Math.sqrt(sse / (n - 2)),
            tq = 1.962;

        let fit = d3.range(80).map(i => {
            let xv = xExt[0] + (xExt[1] - xExt[0]) * i / 79,
                yv = icpt + slope * xv,
                se = s * Math.sqrt(1 / n + (xv - mx) * (xv - mx) / sxx);
            return { x: xv, y: yv, lo: yv - tq * se, hi: yv + tq * se };
        });

        svg.append("path")
            .datum(fit)
            .attr("fill", "#999999").attr("fill-opacity", 0.4)
            .attr("d", d3.area().x(d => x(d.x)).y0(d => y(d.lo)).y1(d => y(d.hi)));

        svg.append("path")
            .datum(fit)
            .attr("fill", "none")
            .attr("stroke", "#ff4c4c")
            .attr("stroke-width", 5.7)
            .attr("d", d3.line().x(d => x(d.x)).y(d => y(d.y)));

        // panel border
        svg.append("rect")
            .attr("x", panel.left).attr("y", panel.top)
            .attr("width", panel.right - panel.left).attr("height", panel.bottom - panel.top)
            .attr("fill", "none").attr("stroke", "#333333").attr("stroke-width", 1.6);

        // axes
        let xAxis = svg.append("g")
            .attr("transform", "translate(0," + panel.bottom + ")")
            .call(d3.axisBottom(x).tickValues(xBreaks).tickFormat(d3.format("d")).tickSize(7.3).tickPadding(8));
        let yAxis = svg.append("g")
            .attr("transform", "translate(" + panel.left + ",0)")
            .call(d3.axisLeft(y).tickValues(yBreaks).tickFormat(d3.format("d")).tickSize(7.3).tickPadding(6.7));

        [xAxis, yAxis].forEach(a => {
            a.select(".domain").remove();
            a.selectAll(".tick line").attr("stroke", "#333333").attr("stroke-width", 2);
            a.selectAll(".tick text")
                .attr("fill", "#4d4d4d")
                .style("font-size", "23.5px")
                .style("font-family", "'Liberation Sans', Arial, Helvetica, sans-serif");
        });

        // titles
        svg.append("text")
            .attr("x", 102).attr("y", 40)
            .attr("fill", "#000")
            .style("font-size", "35.2px")
            .text(titleText);

        svg.append("text")
            .attr("x", (panel.left + panel.right) / 2).attr("y", 941)
            .attr("text-anchor", "middle")
            .attr("fill", "#000")
            .style("font-size", "29.3px")
            .text(xTitle);

        svg.append("text")
            .attr("transform", "translate(37," + ((panel.top + panel.bottom) / 2) + ") rotate(-90)")
            .attr("text-anchor", "middle")
            .attr("fill", "#000")
            .style("font-size", "29.3px")
            .text(yTitle);

    </script>

</body>

</html>
